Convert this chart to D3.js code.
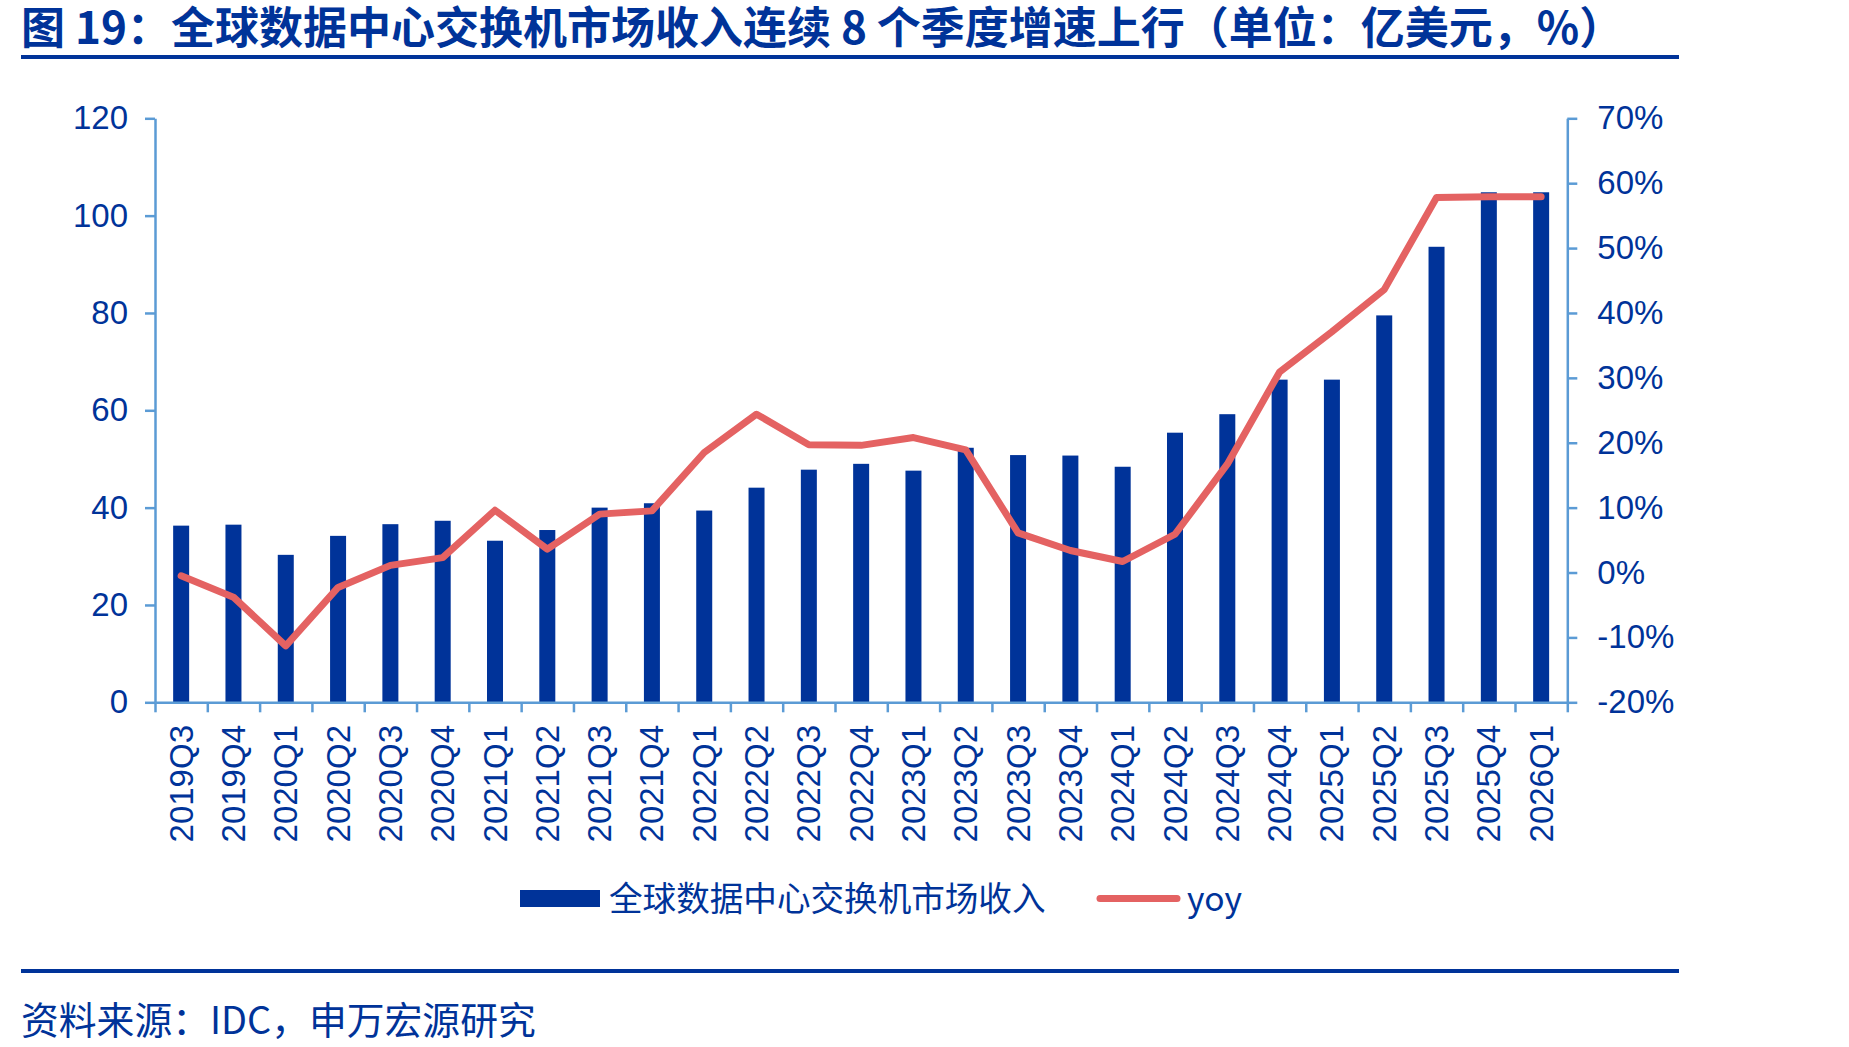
<!DOCTYPE html>
<html>
<head>
<meta charset="utf-8">
<script src="https://cdn.jsdelivr.net/npm/d3@7"></script>
<style>
body {margin: 0; background: #fff;}
svg {display: block;}
</style>
</head>
<body>
<svg id="chart" width="1849" height="1047"></svg>
<script>
// data
var quarters = ['2019Q3', '2019Q4',
    '2020Q1', '2020Q2', '2020Q3', '2020Q4',
    '2021Q1', '2021Q2', '2021Q3', '2021Q4',
    '2022Q1', '2022Q2', '2022Q3', '2022Q4',
    '2023Q1', '2023Q2', '2023Q3', '2023Q4',
    '2024Q1', '2024Q2', '2024Q3', '2024Q4',
    '2025Q1', '2025Q2', '2025Q3', '2025Q4',
    '2026Q1'];
var revenue = [36.3, 36.5,
    30.3, 34.2, 36.6, 37.3,
    33.2, 35.4, 40.0, 40.9,
    39.4, 44.1, 47.8, 49.0,
    47.6, 52.3, 50.8, 50.7,
    48.4, 55.4, 59.2, 66.3,
    66.3, 79.5, 93.6, 104.8,
    104.8];
var yoy = [-0.5, -3.8,
    -11.3, -2.3, 1.1, 2.3,
    9.6, 3.6, 9.0, 9.5,
    18.5, 24.4, 19.7, 19.6,
    20.8, 18.9, 6.1, 3.4,
    1.7, 5.9, 16.7, 30.9,
    37.1, 43.6, 57.8, 57.9,
    57.9];
var leftTicks = [0, 20, 40, 60, 80, 100, 120];
var rightTicks = [-20, -10, 0, 10, 20, 30, 40, 50, 60, 70];

var title = '图 19：全球数据中心交换机市场收入连续 8 个季度增速上行（单位：亿美元，%）';
var seriesNames = ['全球数据中心交换机市场收入', 'yoy'];
var source = '资料来源：IDC，申万宏源研究';

var BLUE = '#003399';
var AXIS = '#5B9BD5';
var RED = '#E46262';
var LATIN = '"Liberation Sans", Arial, sans-serif';
var CJK = '"Noto Sans CJK SC", "Noto Sans", sans-serif';

var svg = d3.select('#chart');
var plotL = 155, plotR = 1567.3, plotT = 118.3, plotB = 702.3;

var x = d3.scaleBand().domain(quarters).range([plotL, plotR]);
var xEdge = d3.scaleLinear().domain([0, quarters.length]).range([plotL, plotR]);
var y = d3.scaleLinear().domain([0, 120]).range([plotB, plotT]);
var y2 = d3.scaleLinear().domain([-20, 70]).range([plotB, plotT]);

// header and footer

svg.append('text')
    .attr('x', 21)
    .attr('y', 44)
    .style('font-family', CJK)
    .style('font-weight', 700)
    .style('font-size', '44px')
    .style('fill', BLUE)
    .text(title);
svg.append('rect')
    .attr('x', 21).attr('y', 55)
    .attr('width', 1658).attr('height', 4)
    .style('fill', BLUE);
svg.append('rect')
    .attr('x', 21).attr('y', 969)
    .attr('width', 1658).attr('height', 4)
    .style('fill', BLUE);
svg.append('text')
    .attr('x', 21)
    .attr('y', 1034)
    .style('font-family', CJK)
    .style('font-size', '37.8px')
    .style('fill', BLUE)
    .text(source);

// bars

var BAR_W = 16;
svg.append('g')
    .selectAll('rect')
    .data(revenue)
    .enter()
    .append('rect')
    .attr('x', function(d, i) {return x(quarters[i]) + x.bandwidth()/2 - BAR_W/2;})
    .attr('y', function(d) {return y(d);})
    .attr('width', BAR_W)
    .attr('height', function(d) {return y(0) - y(d);})
    .style('fill', BLUE);

// axes

function styleAxis(g) {
    g.selectAll('path, line')
        .style('stroke', AXIS)
        .style('stroke-width', 2.5);
    g.selectAll('text')
        .style('font-family', LATIN)
        .style('font-size', '33px')
        .style('fill', BLUE);
}

svg.append('g')
    .attr('transform', 'translate(0,' + plotB + ')')
    .call(d3.axisBottom(xEdge)
        .tickValues(d3.range(0, quarters.length + 1))
        .tickSize(10)
        .tickSizeOuter(0)
        .tickFormat(''))
    .call(styleAxis);

svg.append('g')
    .attr('transform', 'translate(' + plotL + ',0)')
    .call(d3.axisLeft(y)
        .tickValues(leftTicks)
        .tickSize(10)
        .tickSizeOuter(0)
        .tickPadding(17))
    .call(styleAxis);

svg.append('g')
    .attr('transform', 'translate(' + plotR + ',0)')
    .call(d3.axisRight(y2)
        .tickValues(rightTicks)
        .tickSize(10)
        .tickSizeOuter(0)
        .tickPadding(20)
        .tickFormat(function(d) {return d + '%';}))
    .call(styleAxis);

// category labels, rotated
svg.append('g')
    .selectAll('text')
    .data(quarters)
    .enter()
    .append('text')
    .attr('transform', function(d) {
        return 'translate(' + (x(d) + x.bandwidth()/2) + ',725) rotate(-90)';
    })
    .attr('text-anchor', 'end')
    .attr('dy', '0.35em')
    .style('font-family', LATIN)
    .style('font-size', '33px')
    .style('fill', BLUE)
    .text(function(d) {return d;});

// yoy line

var line = d3.line()
    .x(function(d, i) {return x(quarters[i]) + x.bandwidth()/2;})
    .y(function(d) {return y2(d);});
svg.append('path')
    .datum(yoy)
    .attr('d', line)
    .style('fill', 'none')
    .style('stroke', RED)
    .style('stroke-width', 7)
    .style('stroke-linejoin', 'round')
    .style('stroke-linecap', 'round');

// legend

svg.append('rect')
    .attr('x', 520).attr('y', 890)
    .attr('width', 80).attr('height', 17)
    .style('fill', BLUE);
svg.append('text')
    .attr('x', 609)
    .attr('y', 911)
    .style('font-family', CJK)
    .style('font-size', '33.6px')
    .style('fill', BLUE)
    .text(seriesNames[0]);
svg.append('line')
    .attr('x1', 1100).attr('x2', 1177)
    .attr('y1', 898.5).attr('y2', 898.5)
    .style('stroke', RED)
    .style('stroke-width', 7)
    .style('stroke-linecap', 'round');
svg.append('text')
    .attr('x', 1187)
    .attr('y', 911)
    .style('font-family', CJK)
    .style('font-size', '33.6px')
    .style('fill', BLUE)
    .text(seriesNames[1]);
</script>
</body>
</html>
